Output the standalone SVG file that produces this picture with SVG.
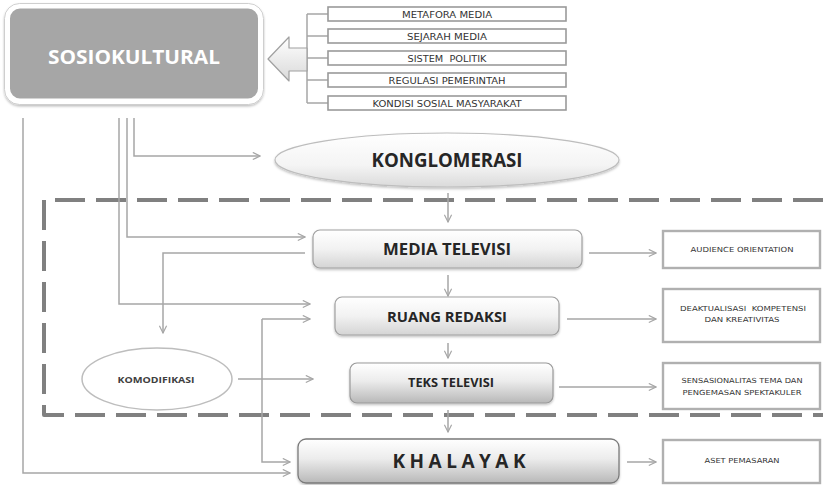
<svg xmlns="http://www.w3.org/2000/svg" width="823" height="485" viewBox="0 0 823 485">
  <defs>
    <linearGradient id="gBox" x1="0" y1="0" x2="0" y2="1">
      <stop offset="0" stop-color="#ffffff"/>
      <stop offset="0.5" stop-color="#f2f2f2"/>
      <stop offset="1" stop-color="#d4d4d4"/>
    </linearGradient>
    <linearGradient id="gBoxDark" x1="0" y1="0" x2="0" y2="1">
      <stop offset="0" stop-color="#ffffff"/>
      <stop offset="0.45" stop-color="#ececec"/>
      <stop offset="1" stop-color="#b8b8b8"/>
    </linearGradient>
    <linearGradient id="gEllipse" x1="0" y1="0" x2="0" y2="1">
      <stop offset="0" stop-color="#ffffff"/>
      <stop offset="0.6" stop-color="#f4f4f4"/>
      <stop offset="1" stop-color="#dadada"/>
    </linearGradient>
    <linearGradient id="gArrow" x1="0" y1="0" x2="0" y2="1">
      <stop offset="0" stop-color="#ffffff"/>
      <stop offset="1" stop-color="#d9d9d9"/>
    </linearGradient>
    <marker id="arr" viewBox="0 0 10 10" refX="9" refY="5" markerWidth="9" markerHeight="9" markerUnits="userSpaceOnUse" orient="auto">
      <path d="M1,1 L9,5 L1,9" fill="none" stroke="#a6a6a6" stroke-width="1.3"/>
    </marker>
    <filter id="soft" x="-5%" y="-10%" width="110%" height="130%">
      <feDropShadow dx="0" dy="1.5" stdDeviation="1.2" flood-color="#000" flood-opacity="0.25"/>
    </filter>
  </defs>
  <style>
    .conn { fill: none; stroke: #a6a6a6; stroke-width: 1.5; }
    .arrow { marker-end: url(#arr); }
    .node { fill: url(#gBox); stroke: #a0a0a0; stroke-width: 1.2; }
    .main { font-family: "Open Sans", "Liberation Sans", sans-serif; font-weight: bold; fill: #262626; text-anchor: middle; }
    .small { font-family: "DejaVu Sans Condensed", "Liberation Sans", sans-serif; fill: #333333; text-anchor: middle; white-space: pre; }
    .factor { fill: #ffffff; stroke: #9a9a9a; stroke-width: 1.6; }
    .outcome { fill: #ffffff; stroke: #b0b0b0; stroke-width: 2.4; }
  </style>
  <rect width="823" height="485" fill="#ffffff"/>

  <!-- dashed boundary of the media production area -->
  <path d="M823,200 H44 V415 H823" fill="none" stroke="#808080" stroke-width="4" stroke-dasharray="30 11" stroke-linejoin="round"/>

  <g id="connectors">
    <!-- factor bracket -->
    <path class="conn" d="M307,14 V103 M307,14 H328 M307,36 H328 M307,58 H328 M307,80 H328 M307,103 H328"/>
    <!-- lines out of SOSIOKULTURAL -->
    <path class="conn arrow" d="M23,118 V473 H290"/>
    <path class="conn arrow" d="M119,118 V304 H310"/>
    <path class="conn arrow" d="M127,118 V237 H305"/>
    <path class="conn arrow" d="M134,118 V156 H260"/>
    <!-- media to commodification -->
    <path class="conn arrow" d="M305,253 H163 V333"/>
    <!-- audience loop -->
    <path class="conn arrow" d="M262,319 H310"/>
    <path class="conn arrow" d="M262,319 V462 H290"/>
    <path class="conn arrow" d="M238,379 H313"/>
    <!-- main vertical flow -->
    <path class="conn arrow" d="M448,193 V222"/>
    <path class="conn arrow" d="M448,275 V296"/>
    <path class="conn arrow" d="M448,343 V358"/>
    <path class="conn arrow" d="M448,410 V432"/>
    <!-- outcomes -->
    <path class="conn arrow" d="M589,253 H656"/>
    <path class="conn arrow" d="M567,319 H656"/>
    <path class="conn arrow" d="M559,387 H656"/>
    <path class="conn arrow" d="M627,462 H656"/>
  </g>

  <g id="sosiokultural">
    <rect x="4.5" y="3.5" width="259" height="101" rx="15" fill="#ffffff" stroke="#cfcfcf" stroke-width="1" filter="url(#soft)"/>
    <rect x="9" y="7.5" width="250" height="92" rx="11" fill="#a6a6a6" stroke="#ffffff" stroke-width="2"/>
    <text class="main" x="134" y="64" font-size="19" style="fill:#ffffff" textLength="172" lengthAdjust="spacingAndGlyphs">SOSIOKULTURAL</text>
  </g>

  <g id="block-arrow">
    <polygon points="268,59 289,37 289,48 307,48 307,71 289,71 289,81" fill="url(#gArrow)" stroke="#a0a0a0" stroke-width="1.2" stroke-linejoin="round"/>
  </g>

  <g id="factor-metafora">
    <rect class="factor" x="328" y="7" width="238" height="14"/>
    <text class="small" x="447" y="18" font-size="8.5" textLength="90" lengthAdjust="spacingAndGlyphs">METAFORA MEDIA</text>
  </g>
  <g id="factor-sejarah">
    <rect class="factor" x="328" y="29" width="238" height="14"/>
    <text class="small" x="447" y="40" font-size="8.5" textLength="80" lengthAdjust="spacingAndGlyphs">SEJARAH MEDIA</text>
  </g>
  <g id="factor-politik">
    <rect class="factor" x="328" y="51" width="238" height="14"/>
    <text class="small" x="447" y="62" font-size="8.5" textLength="79" lengthAdjust="spacingAndGlyphs">SISTEM  POLITIK</text>
  </g>
  <g id="factor-regulasi">
    <rect class="factor" x="328" y="73" width="238" height="14"/>
    <text class="small" x="447" y="84" font-size="8.5" textLength="117" lengthAdjust="spacingAndGlyphs">REGULASI PEMERINTAH</text>
  </g>
  <g id="factor-kondisi">
    <rect class="factor" x="328" y="96" width="238" height="14"/>
    <text class="small" x="447" y="107" font-size="8.5" textLength="149" lengthAdjust="spacingAndGlyphs">KONDISI SOSIAL MASYARAKAT</text>
  </g>

  <g id="konglomerasi">
    <ellipse cx="447" cy="160" rx="172" ry="27" fill="url(#gEllipse)" stroke="#bdbdbd" stroke-width="1.2" filter="url(#soft)"/>
    <text class="main" x="447" y="167" font-size="19" textLength="151" lengthAdjust="spacingAndGlyphs">KONGLOMERASI</text>
  </g>

  <g id="media-televisi">
    <rect class="node" x="313" y="230" width="269" height="38" rx="7" filter="url(#soft)"/>
    <text class="main" x="447" y="255" font-size="16" textLength="128" lengthAdjust="spacingAndGlyphs">MEDIA TELEVISI</text>
  </g>

  <g id="ruang-redaksi">
    <rect class="node" x="335" y="297" width="224" height="38" rx="7" filter="url(#soft)"/>
    <text class="main" x="447" y="322" font-size="15" textLength="120" lengthAdjust="spacingAndGlyphs">RUANG REDAKSI</text>
  </g>

  <g id="teks-televisi">
    <rect x="350" y="363" width="203" height="40" rx="7" fill="url(#gBoxDark)" stroke="#999999" stroke-width="1.2" filter="url(#soft)"/>
    <text class="main" x="451" y="387" font-size="12.5" textLength="86" lengthAdjust="spacingAndGlyphs">TEKS TELEVISI</text>
  </g>

  <g id="komodifikasi">
    <ellipse cx="157" cy="379" rx="75" ry="31" fill="#ffffff" stroke="#bdbdbd" stroke-width="1.5"/>
    <text class="main" x="156" y="383" font-size="9.5" style="fill:#404040" textLength="77" lengthAdjust="spacingAndGlyphs">KOMODIFIKASI</text>
  </g>

  <g id="khalayak">
    <rect x="298" y="439" width="321" height="44" rx="8" fill="url(#gBoxDark)" stroke="#7a7a7a" stroke-width="1.3" filter="url(#soft)"/>
    <text x="459" y="468" font-family="Open Sans, Liberation Sans, sans-serif" font-weight="bold" font-size="19" fill="#262626" text-anchor="middle" textLength="133" lengthAdjust="spacing">K H A L A Y A K</text>
  </g>

  <g id="audience-orientation">
    <rect class="outcome" x="663" y="231" width="157" height="37"/>
    <text class="small" x="742" y="252" font-size="7" textLength="103" lengthAdjust="spacingAndGlyphs">AUDIENCE ORIENTATION</text>
  </g>

  <g id="deaktualisasi">
    <rect class="outcome" x="663" y="289" width="157" height="53"/>
    <text class="small" x="743" y="311" font-size="7" textLength="126" lengthAdjust="spacingAndGlyphs">DEAKTUALISASI  KOMPETENSI</text>
    <text class="small" x="742" y="322" font-size="7" textLength="75" lengthAdjust="spacingAndGlyphs">DAN KREATIVITAS</text>
  </g>

  <g id="sensasionalitas">
    <rect class="outcome" x="663" y="363" width="157" height="46"/>
    <text class="small" x="742" y="383" font-size="7" textLength="121" lengthAdjust="spacingAndGlyphs">SENSASIONALITAS TEMA DAN</text>
    <text class="small" x="742" y="395" font-size="7" textLength="119" lengthAdjust="spacingAndGlyphs">PENGEMASAN SPEKTAKULER</text>
  </g>

  <g id="aset-pemasaran">
    <rect class="outcome" x="663" y="440" width="157" height="43"/>
    <text class="small" x="742" y="463" font-size="7" textLength="75" lengthAdjust="spacingAndGlyphs">ASET PEMASARAN</text>
  </g>
</svg>
